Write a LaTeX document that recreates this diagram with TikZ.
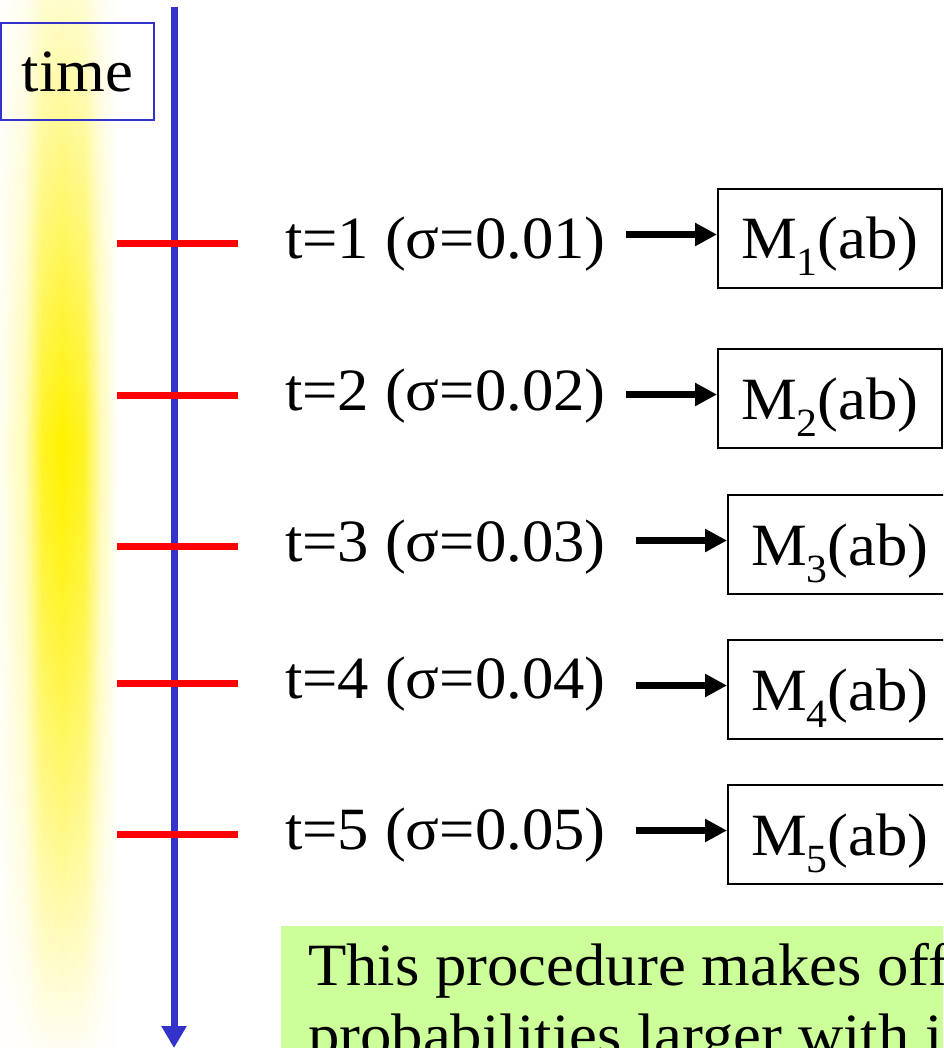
\documentclass[tikz,border=0pt]{standalone}
\usepackage{fontspec}
\setmainfont{Liberation Serif}[FakeStretch=1.045]
\usetikzlibrary{arrows.meta}
\definecolor{axisblue}{RGB}{51,51,204}
\definecolor{tickred}{RGB}{255,0,0}
\definecolor{bandyellow}{RGB}{255,242,0}
\definecolor{notegreen}{RGB}{204,255,153}
\newcommand{\bigfont}{\fontsize{60}{70}\selectfont}
\newcommand{\msub}[1]{\raisebox{-17pt}{\fontsize{40}{40}\selectfont #1}}
\begin{document}
\begin{tikzpicture}[x=1pt,y=-1pt,
  lbl/.style={anchor=base west, inner sep=0pt, font=\bigfont},
  mbox/.style={draw=black, line width=2pt, anchor=north west, minimum width=224pt,
    minimum height=99pt, inner sep=0pt, text height=41pt, text depth=0pt, font=\bigfont},
  conn/.style={line width=7pt, -{Triangle[length=22pt,width=22pt]}},
  tickline/.style={draw=tickred, line width=7pt},
]
\useasboundingbox (0,0) rectangle (943,1048);
\clip (0,0) rectangle (943,1048);

% yellow band: horizontal profile
\shade[left color=bandyellow!5!white, right color=bandyellow!30!white] (0,0) rectangle (25,1048);
\shade[left color=bandyellow!30!white, right color=bandyellow!85!white] (25,0) rectangle (42,1048);
\shade[left color=bandyellow!85!white, right color=bandyellow] (42,0) rectangle (62,1048);
\shade[left color=bandyellow, right color=bandyellow!85!white] (62,0) rectangle (84,1048);
\shade[left color=bandyellow!85!white, right color=bandyellow!30!white] (84,0) rectangle (100,1048);
\shade[left color=bandyellow!30!white, right color=white] (100,0) rectangle (118,1048);
% vertical fade by white overlays
\foreach \i in {0,...,130}{
  \pgfmathsetmacro\yy{8*\i}
  \pgfmathsetmacro\yc{8*\i+4}
  \pgfmathsetmacro\op{\yc<440 ? 0.8*(440-\yc)/440 : 0.95*(max(\yc-440,0.5)/608)^1.3}
  \fill[white, opacity=\op] (-1,\yy) rectangle (121,\yy+8);
}

% time box
\node[draw=axisblue, line width=2pt, minimum width=153pt, minimum height=97pt,
  inner sep=0pt, font=\bigfont] (timebox) at (77.5,71.5) {time};

% axis
\coordinate (atop) at (174,7);
\coordinate (abot) at (174,1048);
\draw[axisblue, line width=7pt, -{Triangle[length=22pt,width=24pt]}] (atop) -- (abot);

% ticks
\foreach \y in {244,395,546,683,834}{
  \draw[tickline] (117,\y) -- (238,\y);
}

% labels
\node[lbl] (t1) at (285,259) {t=1 (σ=0.01)};
\node[lbl] (t2) at (285,410) {t=2 (σ=0.02)};
\node[lbl] (t3) at (285,561) {t=3 (σ=0.03)};
\node[lbl] (t4) at (285,698) {t=4 (σ=0.04)};
\node[lbl] (t5) at (285,849) {t=5 (σ=0.05)};

% boxes
\node[mbox] (m1) at (717,188) {M\msub{1}(ab)};
\node[mbox] (m2) at (717,348) {M\msub{2}(ab)};
\node[mbox] (m3) at (727,494) {M\msub{3}(ab)};
\node[mbox] (m4) at (727,639) {M\msub{4}(ab)};
\node[mbox] (m5) at (727,784) {M\msub{5}(ab)};

% arrows
\foreach \k/\gap in {1/20,2/20,3/30,4/30,5/30}{
  \coordinate (e\k) at ([yshift=4pt]m\k.west);
  \coordinate (s\k) at ([xshift=\gap pt]t\k.east);
  \draw[conn] (s\k |- e\k) -- (e\k);
}

% note
\node[fill=notegreen, anchor=north west, minimum width=700pt, minimum height=200pt,
  inner sep=0pt] (note) at (281,926) {};
\node[lbl] (n1) at ([xshift=27pt,yshift=-59pt]note.north west) {This procedure makes off};
\node[lbl] (n2) at ([xshift=27pt,yshift=-129pt]note.north west) {probabilities larger with i};
\end{tikzpicture}
\end{document}
